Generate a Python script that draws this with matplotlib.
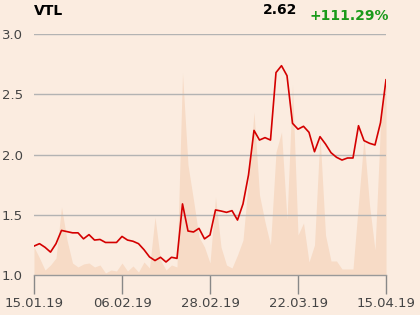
import matplotlib
matplotlib.use("Agg")
import matplotlib.pyplot as plt
import numpy as np

ticker = "VTL"
last_label = "2.62"
change_label = "+111.29%"

tick_labels = ["15.01.19", "06.02.19", "28.02.19", "22.03.19", "15.04.19"]

price = [1.24, 1.26, 1.23, 1.19, 1.26, 1.37, 1.36, 1.35, 1.35, 1.30,
         1.335, 1.29, 1.295, 1.27, 1.27, 1.27, 1.32, 1.29, 1.28, 1.26,
         1.21, 1.15, 1.12, 1.147, 1.108, 1.147, 1.138, 1.59, 1.365, 1.357,
         1.387, 1.30, 1.332, 1.54, 1.531, 1.52, 1.534, 1.456, 1.59, 1.83,
         2.20, 2.12, 2.14, 2.12, 2.68, 2.737, 2.654, 2.259, 2.21, 2.234,
         2.184, 2.023, 2.148, 2.087, 2.015, 1.977, 1.954, 1.971, 1.971, 2.239,
         2.115, 2.093, 2.079, 2.264, 2.62]

volume = [28, 17, 5, 10, 17, 68, 35, 12, 8, 11,
          12, 8, 10, 2, 5, 4, 12, 4, 9, 3,
          13, 7, 58, 15, 5, 10, 8, 202, 110, 75,
          38, 28, 12, 78, 28, 10, 7, 20, 35, 95,
          163, 80, 53, 30, 123, 143, 55, 190, 40, 52,
          13, 30, 140, 40, 14, 14, 6, 6, 6, 72,
          137, 70, 25, 150, 190]

bg = "#fbece0"
fig = plt.figure(figsize=(4.2, 3.15), dpi=100, facecolor=bg)
ax = fig.add_axes([34/420, 1-275/315, 352/420, 241/315])
ax.set_facecolor(bg)

x = np.arange(len(price))
n = len(price) - 1

axv = ax.twinx()
axv.fill_between(x, 0, volume, color="#f7dbc6", lw=0, zorder=1)
axv.set_ylim(0, 241)
axv.axis("off")
ax.set_zorder(axv.get_zorder() + 1)
ax.patch.set_visible(False)
axv.patch.set_facecolor(bg)
axv.patch.set_visible(True)

for v in [1.5, 2.0, 2.5, 3.0]:
    ax.axhline(v, color="#b3b3b3", lw=1, zorder=1)
ax.plot(x, price, color="#d40000", lw=1.2, zorder=3)

ax.set_xlim(0, n)
ax.set_ylim(1.0, 3.0)
ax.set_yticks([1.0, 1.5, 2.0, 2.5, 3.0])
ax.set_yticklabels(["1.0", "1.5", "2.0", "2.5", "3.0"])
ax.set_xticks([0, n/4, n/2, 3*n/4, n])
ax.set_xticklabels(tick_labels)
ax.tick_params(axis="y", length=0, pad=8, labelsize=9.5, labelcolor="#444444")
ax.tick_params(axis="x", length=14, width=1, color="#888888", pad=2,
               labelsize=9.5, labelcolor="#444444")
for s in ["left", "right", "top"]:
    ax.spines[s].set_visible(False)
ax.spines["bottom"].set_color("#999999")
ax.spines["bottom"].set_linewidth(1)

fig.text(34/420, 1-11/315, ticker, fontsize=10, fontweight="bold",
         color="black", ha="left", va="center")
fig.text(297/420, 1-10/315, last_label, fontsize=10, fontweight="bold",
         color="black", ha="right", va="center")
fig.text(389/420, 1-16/315, change_label, fontsize=10, fontweight="bold",
         color="#1a9a1a", ha="right", va="center")

fig.savefig("out.png", dpi=100, facecolor=bg)
